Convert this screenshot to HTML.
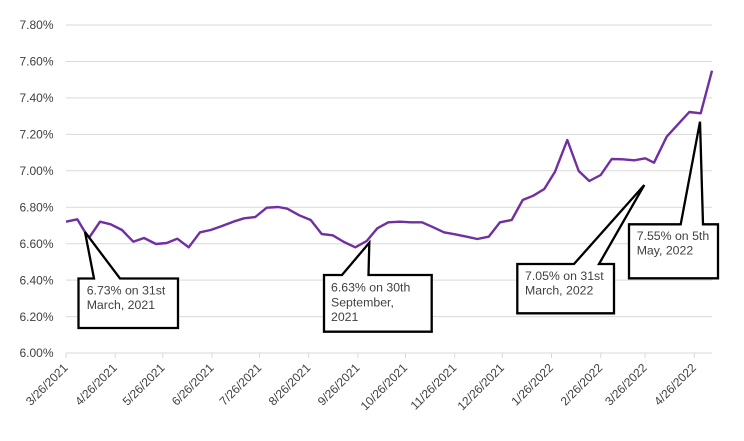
<!DOCTYPE html>
<html><head><meta charset="utf-8"><style>
html,body{margin:0;padding:0;background:#fff;}
svg{display:block;}
text{font-family:"Liberation Sans",Arial,sans-serif;fill:#404040;}
</style></head><body>
<svg width="744" height="441" viewBox="0 0 744 441" xmlns="http://www.w3.org/2000/svg">
<rect width="744" height="441" fill="#fff"/>
<g stroke="#d9d9d9" stroke-width="1">
<line x1="66" y1="25" x2="712" y2="25"/>
<line x1="66" y1="61.45" x2="712" y2="61.45"/>
<line x1="66" y1="97.9" x2="712" y2="97.9"/>
<line x1="66" y1="134.35" x2="712" y2="134.35"/>
<line x1="66" y1="170.8" x2="712" y2="170.8"/>
<line x1="66" y1="207.25" x2="712" y2="207.25"/>
<line x1="66" y1="243.7" x2="712" y2="243.7"/>
<line x1="66" y1="280.15" x2="712" y2="280.15"/>
<line x1="66" y1="316.6" x2="712" y2="316.6"/>
<line x1="66" y1="353.05" x2="712" y2="353.05"/>
<line x1="66" y1="353" x2="66" y2="358"/>
<line x1="115.2" y1="353" x2="115.2" y2="358"/>
<line x1="162.8" y1="353" x2="162.8" y2="358"/>
<line x1="212" y1="353" x2="212" y2="358"/>
<line x1="259.6" y1="353" x2="259.6" y2="358"/>
<line x1="308.7" y1="353" x2="308.7" y2="358"/>
<line x1="357.9" y1="353" x2="357.9" y2="358"/>
<line x1="405.5" y1="353" x2="405.5" y2="358"/>
<line x1="454.7" y1="353" x2="454.7" y2="358"/>
<line x1="502.3" y1="353" x2="502.3" y2="358"/>
<line x1="551.5" y1="353" x2="551.5" y2="358"/>
<line x1="600.7" y1="353" x2="600.7" y2="358"/>
<line x1="645.1" y1="353" x2="645.1" y2="358"/>
<line x1="694.3" y1="353" x2="694.3" y2="358"/>
</g>
<g font-size="12" text-anchor="end">
<text x="53.5" y="29.2">7.80%</text>
<text x="53.5" y="65.6">7.60%</text>
<text x="53.5" y="102.1">7.40%</text>
<text x="53.5" y="138.5">7.20%</text>
<text x="53.5" y="175">7.00%</text>
<text x="53.5" y="211.4">6.80%</text>
<text x="53.5" y="247.9">6.60%</text>
<text x="53.5" y="284.3">6.40%</text>
<text x="53.5" y="320.8">6.20%</text>
<text x="53.5" y="357.2">6.00%</text>
</g>
<g font-size="12" text-anchor="end">
<text transform="translate(68.5,368.5) rotate(-45)">3/26/2021</text>
<text transform="translate(117.7,368.5) rotate(-45)">4/26/2021</text>
<text transform="translate(165.3,368.5) rotate(-45)">5/26/2021</text>
<text transform="translate(214.5,368.5) rotate(-45)">6/26/2021</text>
<text transform="translate(262.1,368.5) rotate(-45)">7/26/2021</text>
<text transform="translate(311.2,368.5) rotate(-45)">8/26/2021</text>
<text transform="translate(360.4,368.5) rotate(-45)">9/26/2021</text>
<text transform="translate(408,368.5) rotate(-45)">10/26/2021</text>
<text transform="translate(457.2,368.5) rotate(-45)">11/26/2021</text>
<text transform="translate(504.8,368.5) rotate(-45)">12/26/2021</text>
<text transform="translate(554,368.5) rotate(-45)">1/26/2022</text>
<text transform="translate(603.2,368.5) rotate(-45)">2/26/2022</text>
<text transform="translate(647.6,368.5) rotate(-45)">3/26/2022</text>
<text transform="translate(696.8,368.5) rotate(-45)">4/26/2022</text>
</g>
<polyline fill="none" stroke="#7030A0" stroke-width="2.4" stroke-linejoin="round" points="66,221.7 77.3,219.3 88.7,238.3 100,221.7 110.7,224.3 122,230 133.3,241.7 144,238 156,244 166.7,243 177.3,238.7 188.7,247.3 200,232.3 210.7,230 222,226 233.3,221.7 244,218.3 255.3,217 266.7,207.7 278.3,207 287.3,208.7 299.3,215.3 310.7,220 321.7,234 332.7,235.3 344,242 355.3,247.3 366.7,241 377.3,228.3 388.3,222.3 400,221.7 410.7,222.3 422,222.3 433.3,227.3 444,232.3 455,234.3 466.7,236.7 477.3,239 488.7,236.7 500,222.3 511.7,220 522.7,200 533.3,195.7 544.3,189 555,171.7 567.3,140 578.7,171 589.3,181 600.7,175 611.7,159 622.7,159.3 634.3,160.3 645.3,158.3 654,162.7 666.7,136.7 678,124.3 689.3,112 700.7,113.3 712,70.7"/>
<g fill="#fff" stroke="#000" stroke-width="2.3" stroke-linejoin="miter">
<path d="M78.5,278.5 L94,278.5 L85,232 L120,278.5 L178,278.5 L178,328 L78.5,328 Z"/>
<path d="M324,275 L342,275 L369.3,242.7 L368.5,275 L431.7,275 L431.7,331.7 L324,331.7 Z"/>
<path d="M517.3,264 L574,264 L644.3,185 L599,264 L614,264 L614,313.3 L517.3,313.3 Z"/>
<path d="M629,224.3 L680.7,224.3 L700,121.7 L703,224.3 L718,224.3 L718,278.3 L629,278.3 Z"/>
</g>
<g font-size="12.3">
<text x="86.7" y="294.3">6.73% on 31st</text>
<text x="86.7" y="309.2">March, 2021</text>
<text x="331" y="291.6">6.63% on 30th</text>
<text x="331" y="306.3">September,</text>
<text x="331" y="321">2021</text>
<text x="525" y="280">7.05% on 31st</text>
<text x="525" y="294.7">March, 2022</text>
<text x="636.7" y="240">7.55% on 5th</text>
<text x="636.7" y="254.7">May, 2022</text>
</g>
</svg>
</body></html>
